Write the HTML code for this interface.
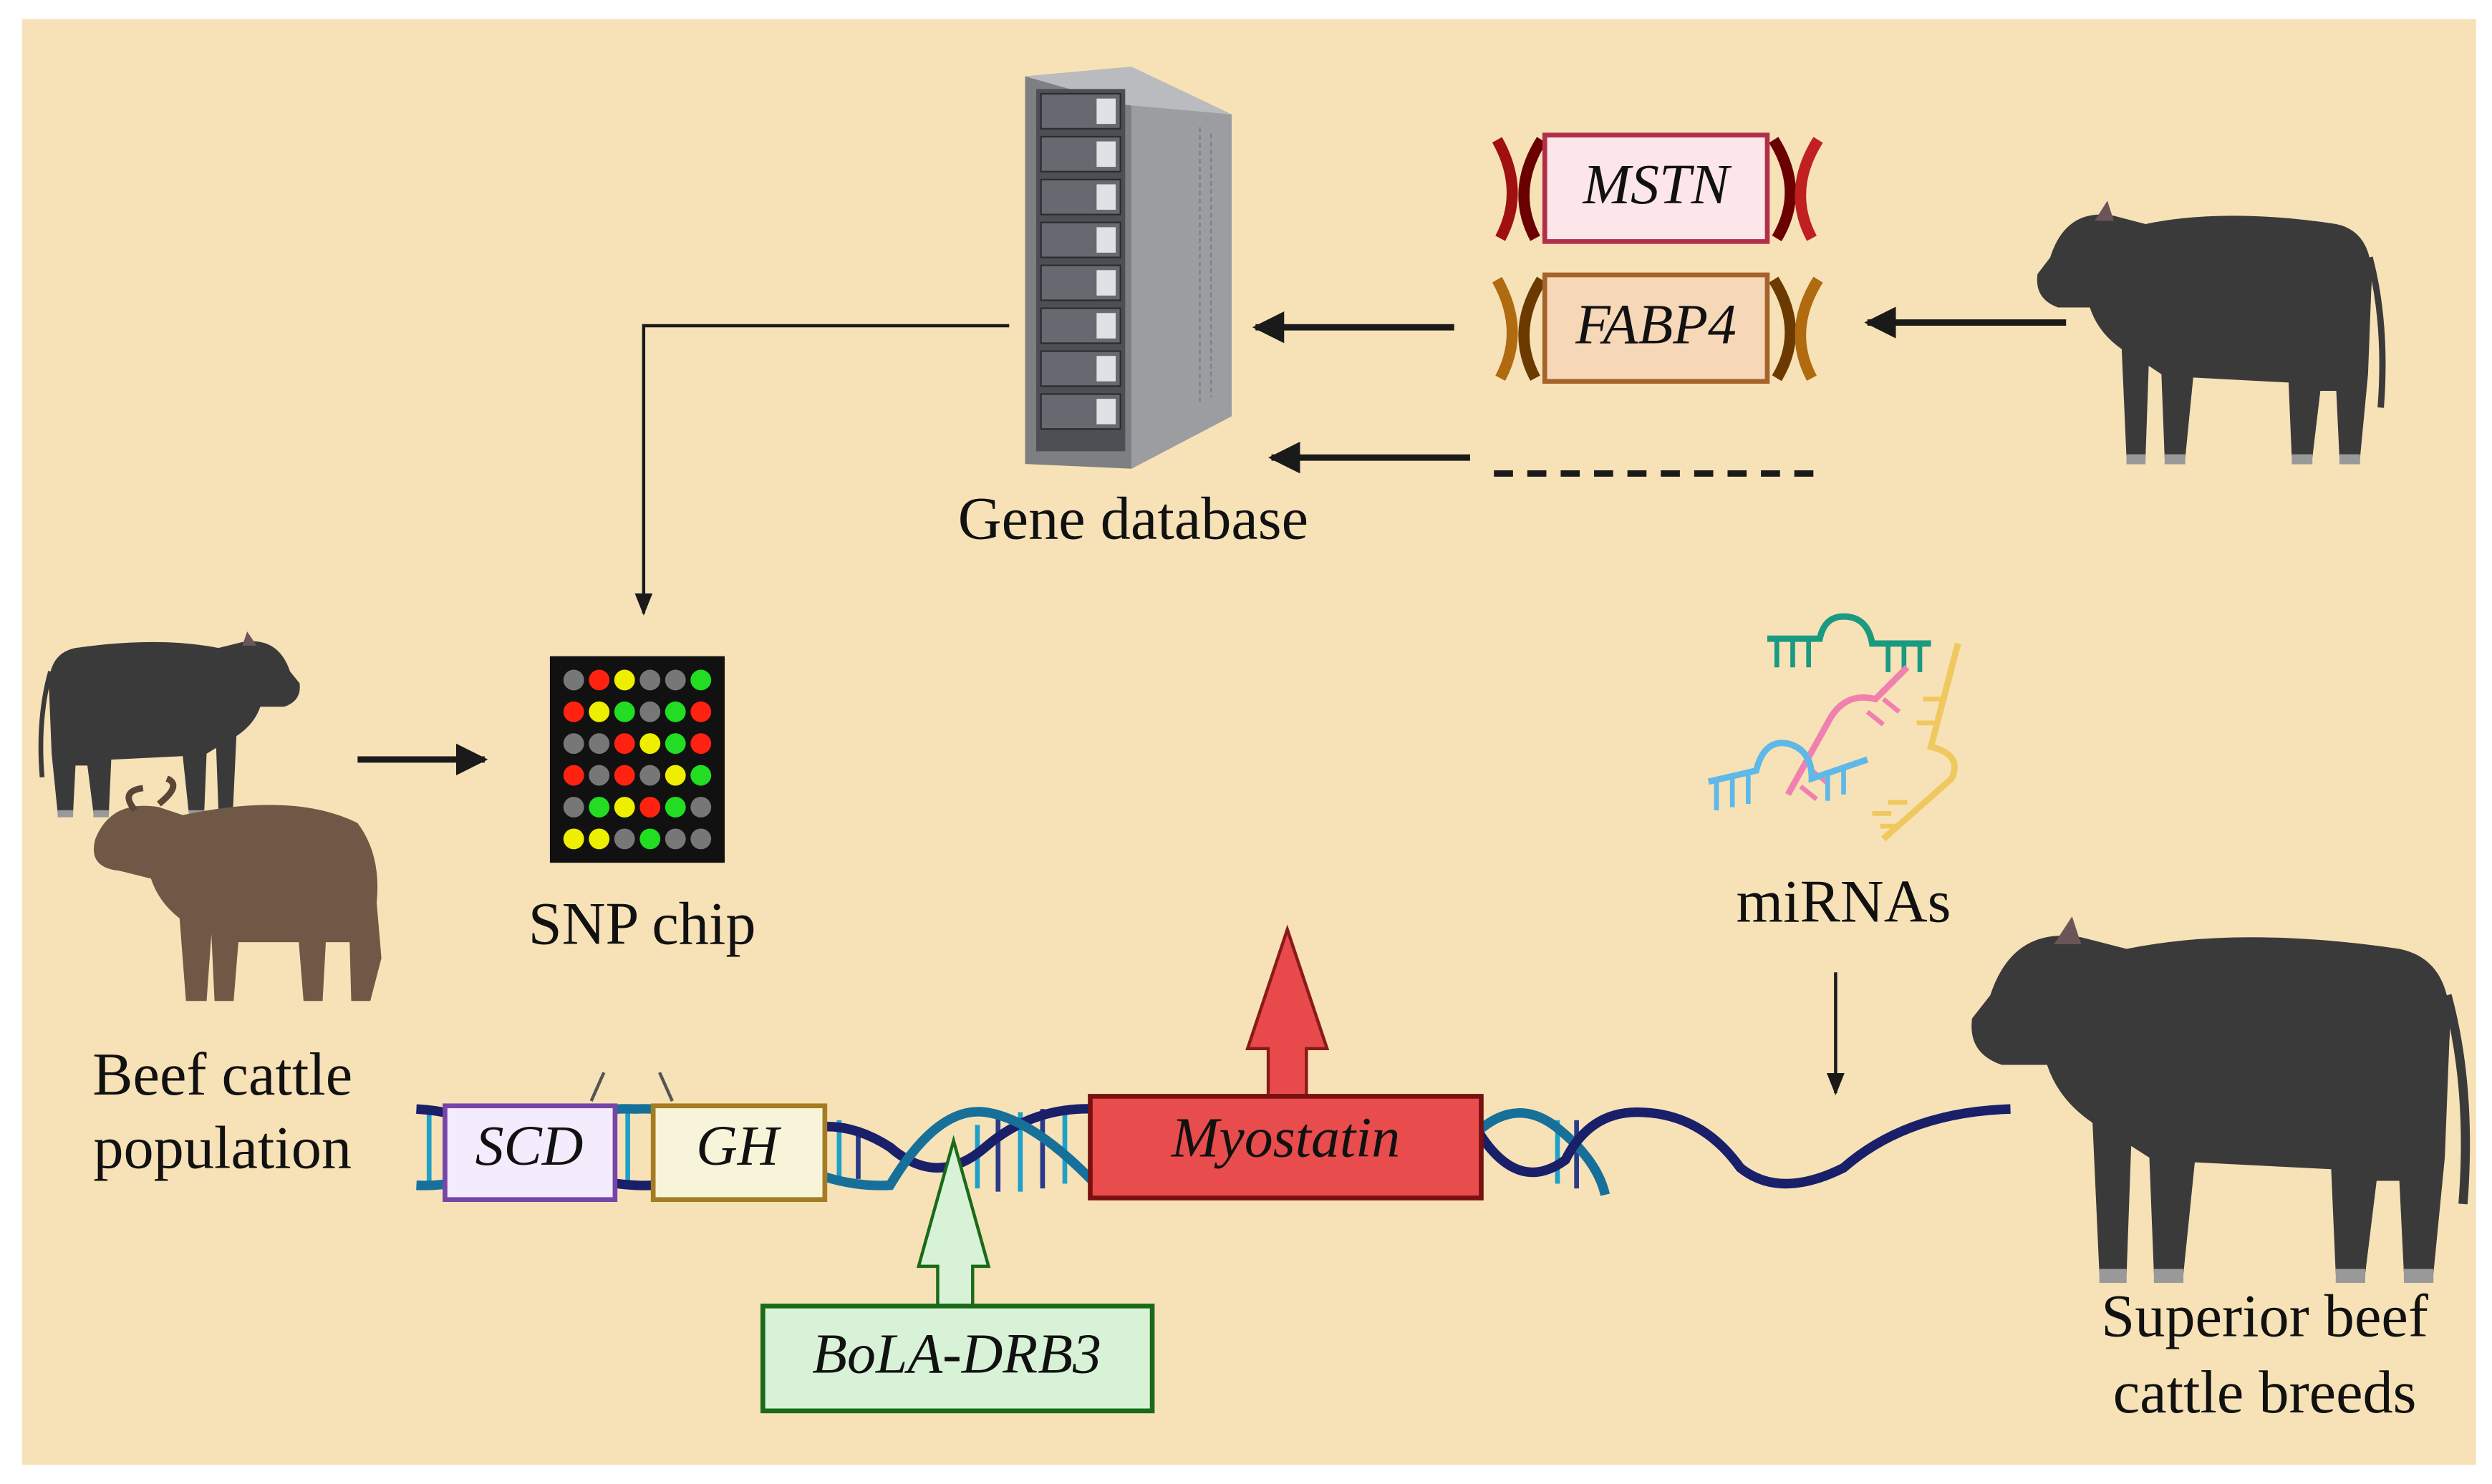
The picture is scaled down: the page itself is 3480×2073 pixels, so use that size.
<!DOCTYPE html>
<html><head><meta charset="utf-8"><style>
html,body{margin:0;padding:0;background:#fff;}
svg{display:block;}
svg text{font-family:"Liberation Serif","DejaVu Serif",serif !important;fill:#111;}
.it{font-style:italic;}
</style></head><body>
<svg width="3480" height="2073" viewBox="0 0 1568 934" xmlns="http://www.w3.org/2000/svg" font-family="Liberation Serif, DejaVu Serif, serif">
<defs>
<marker id="ah" viewBox="0 0 10 10" refX="9" refY="5" markerWidth="5" markerHeight="5" orient="auto"><path d="M0,0 L10,5 L0,10 Z" fill="#1a1a1a"/></marker>
<marker id="ahs" viewBox="0 0 10 10" refX="9" refY="5" markerWidth="7" markerHeight="7" orient="auto"><path d="M0,1 L10,5 L0,9 Z" fill="#1a1a1a"/></marker>
<g id="cow">
<path d="M10,40 Q20,10 50,15 L70,20 Q120,10 190,20 Q215,25 212,60 L210,110 L205,160 L192,160 L190,120 L180,120 L175,160 L162,160 L160,115 L100,112 L95,160 L82,160 L80,110 L72,105 L70,160 L58,160 L55,95 Q40,85 35,70 L15,70 Q0,65 2,50 Z" fill="#3b3a3b"/>
<path d="M211,40 Q222,80 218,130" stroke="#3b3a3b" stroke-width="4" fill="none"/>
<rect x="58" y="158" width="12" height="6" fill="#999"/><rect x="82" y="158" width="13" height="6" fill="#999"/>
<rect x="162" y="158" width="13" height="6" fill="#999"/><rect x="192" y="158" width="13" height="6" fill="#999"/>
<path d="M38,18 L46,6 L50,18 Z" fill="#6a5558"/>
</g>
</defs>
<rect x="0" y="0" width="1568" height="934" fill="#fff"/>
<rect x="14" y="12" width="1544" height="910" fill="#f7e2b7"/>

<!-- Server -->
<polygon points="712,42 645,48 645,292 712,295" fill="#7d7f83"/>
<polygon points="712,42 775,72 775,262 712,295" fill="#9b9da1"/>
<polygon points="645,48 712,42 775,72 708,66" fill="#b9bbbe"/>
<rect x="652" y="56" width="56" height="228" fill="#4d4f54"/>
<g fill="#666a70" stroke="#2a2c30" stroke-width="1">
<rect x="655" y="59" width="50" height="22"/><rect x="655" y="86" width="50" height="22"/><rect x="655" y="113" width="50" height="22"/><rect x="655" y="140" width="50" height="22"/><rect x="655" y="167" width="50" height="22"/><rect x="655" y="194" width="50" height="22"/><rect x="655" y="221" width="50" height="22"/><rect x="655" y="248" width="50" height="22"/>
</g>
<g fill="#dfe2e5">
<rect x="690" y="62" width="12" height="16"/><rect x="690" y="89" width="12" height="16"/><rect x="690" y="116" width="12" height="16"/><rect x="690" y="143" width="12" height="16"/><rect x="690" y="170" width="12" height="16"/><rect x="690" y="197" width="12" height="16"/><rect x="690" y="224" width="12" height="16"/><rect x="690" y="251" width="12" height="16"/>
</g>
<g stroke="#7d8088" stroke-width="1">
<line x1="755" y1="80" x2="755" y2="255" stroke-dasharray="3 2"/><line x1="762" y1="84" x2="762" y2="250" stroke-dasharray="3 2"/>
</g>

<g font-family="Liberation Serif, DejaVu Serif, serif">
<text x="713" y="339" font-size="38" text-anchor="middle" style="font-family:'Liberation Serif',serif">Gene database</text>
</g>

<polyline points="635,205 405,205 405,386" fill="none" stroke="#1a1a1a" stroke-width="2" marker-end="url(#ahs)"/>

<g fill="none" stroke-width="7">
<path d="M942,88 Q960,120 944,150" stroke="#a01010"/><path d="M970,88 Q950,120 966,150" stroke="#6a0000"/>
<path d="M1116,88 Q1136,120 1118,150" stroke="#6a0000"/><path d="M1144,88 Q1124,120 1140,150" stroke="#c02020"/>
<path d="M942,176 Q960,208 944,238" stroke="#b06a10"/><path d="M970,176 Q950,208 966,238" stroke="#6a3a00"/>
<path d="M1116,176 Q1136,208 1118,238" stroke="#6a3a00"/><path d="M1144,176 Q1124,208 1140,238" stroke="#b06a10"/>
</g>
<rect x="972" y="85" width="140" height="67" fill="#fde6ea" stroke="#b0304c" stroke-width="3"/>
<text x="1042" y="128" font-size="36" class="it" text-anchor="middle" style="font-family:'Liberation Serif',serif;font-style:italic">MSTN</text>
<rect x="972" y="173" width="140" height="67" fill="#f6d7b8" stroke="#a5622a" stroke-width="3"/>
<text x="1042" y="216" font-size="36" class="it" text-anchor="middle" style="font-family:'Liberation Serif',serif;font-style:italic">FABP4</text>

<line x1="915" y1="206" x2="790" y2="206" stroke="#1a1a1a" stroke-width="4" marker-end="url(#ah)"/>
<line x1="1300" y1="203" x2="1175" y2="203" stroke="#1a1a1a" stroke-width="4" marker-end="url(#ah)"/>
<line x1="925" y1="288" x2="800" y2="288" stroke="#1a1a1a" stroke-width="4" marker-end="url(#ah)"/>
<line x1="940" y1="298" x2="1145" y2="298" stroke="#1a1a1a" stroke-width="4" stroke-dasharray="12 9"/>

<use href="#cow" transform="translate(1280,120) scale(1.0,1.05)"/>
<use href="#cow" transform="translate(190,393) scale(-0.75,0.74)"/>
<g transform="translate(55,498)">
<path d="M5,30 Q15,5 45,10 L60,15 Q130,0 170,20 Q185,40 182,70 L185,105 L178,132 L166,132 L165,95 L150,95 L148,132 L136,132 L133,95 L95,95 L92,132 L80,132 L78,90 L75,132 L62,132 L58,80 Q45,70 40,55 L20,50 Q0,48 5,30 Z" fill="#6f5845"/>
<path d="M30,12 Q20,0 35,-2 M45,8 Q60,-4 50,-8" stroke="#5a4636" stroke-width="4" fill="none"/>
</g>
<use href="#cow" transform="translate(1238,568) scale(1.43,1.46)"/>

<text x="140" y="689" font-size="38" text-anchor="middle" style="font-family:'Liberation Serif',serif">Beef cattle</text>
<text x="140" y="735" font-size="38" text-anchor="middle" style="font-family:'Liberation Serif',serif">population</text>

<line x1="225" y1="478" x2="305" y2="478" stroke="#1a1a1a" stroke-width="4" marker-end="url(#ah)"/>

<rect x="346" y="413" width="110" height="130" fill="#111"/>
<g>
<circle cx="361" cy="428" r="6.5" fill="#777"/><circle cx="377" cy="428" r="6.5" fill="#f21"/><circle cx="393" cy="428" r="6.5" fill="#ee0"/><circle cx="409" cy="428" r="6.5" fill="#777"/><circle cx="425" cy="428" r="6.5" fill="#777"/><circle cx="441" cy="428" r="6.5" fill="#2d2"/>
<circle cx="361" cy="448" r="6.5" fill="#f21"/><circle cx="377" cy="448" r="6.5" fill="#ee0"/><circle cx="393" cy="448" r="6.5" fill="#2d2"/><circle cx="409" cy="448" r="6.5" fill="#777"/><circle cx="425" cy="448" r="6.5" fill="#2d2"/><circle cx="441" cy="448" r="6.5" fill="#f21"/>
<circle cx="361" cy="468" r="6.5" fill="#777"/><circle cx="377" cy="468" r="6.5" fill="#777"/><circle cx="393" cy="468" r="6.5" fill="#f21"/><circle cx="409" cy="468" r="6.5" fill="#ee0"/><circle cx="425" cy="468" r="6.5" fill="#2d2"/><circle cx="441" cy="468" r="6.5" fill="#f21"/>
<circle cx="361" cy="488" r="6.5" fill="#f21"/><circle cx="377" cy="488" r="6.5" fill="#777"/><circle cx="393" cy="488" r="6.5" fill="#f21"/><circle cx="409" cy="488" r="6.5" fill="#777"/><circle cx="425" cy="488" r="6.5" fill="#ee0"/><circle cx="441" cy="488" r="6.5" fill="#2d2"/>
<circle cx="361" cy="508" r="6.5" fill="#777"/><circle cx="377" cy="508" r="6.5" fill="#2d2"/><circle cx="393" cy="508" r="6.5" fill="#ee0"/><circle cx="409" cy="508" r="6.5" fill="#f21"/><circle cx="425" cy="508" r="6.5" fill="#2d2"/><circle cx="441" cy="508" r="6.5" fill="#777"/>
<circle cx="361" cy="528" r="6.5" fill="#ee0"/><circle cx="377" cy="528" r="6.5" fill="#ee0"/><circle cx="393" cy="528" r="6.5" fill="#777"/><circle cx="409" cy="528" r="6.5" fill="#2d2"/><circle cx="425" cy="528" r="6.5" fill="#777"/><circle cx="441" cy="528" r="6.5" fill="#777"/>
</g>
<text x="404" y="594" font-size="38" text-anchor="middle" style="font-family:'Liberation Serif',serif">SNP chip</text>

<g fill="none" stroke-width="4">
<path d="M1112,402 L1145,402 Q1148,388 1160,388 Q1175,388 1178,405 L1215,405" stroke="#1a9a80"/>
<path d="M1118,402 v18 M1128,402 v18 M1138,402 v18 M1188,405 v18 M1198,405 v18 M1208,405 v18" stroke="#1a9a80" stroke-width="3"/>
<path d="M1232,405 L1215,470 Q1235,475 1228,490 L1185,528" stroke="#f0c860"/>
<path d="M1222,440 h-12 M1218,455 h-12 M1195,520 h-12 M1190,512 h-12 M1200,505 h-12" stroke="#f0c860" stroke-width="3"/>
<path d="M1200,420 L1180,440 Q1160,435 1150,455 L1125,500" stroke="#f080b0"/>
<path d="M1185,440 l10,8 M1175,448 l10,8 M1140,485 l10,8 M1133,495 l10,8" stroke="#f080b0" stroke-width="3"/>
<path d="M1075,492 L1105,485 Q1110,465 1125,468 Q1140,472 1140,490 L1175,478" stroke="#60b8e8"/>
<path d="M1080,492 v18 M1090,490 v18 M1100,488 v18 M1150,486 v18 M1160,482 v18" stroke="#60b8e8" stroke-width="3"/>
</g>
<text x="1160" y="580" font-size="38" text-anchor="middle" style="font-family:'Liberation Serif',serif">miRNAs</text>
<line x1="1155" y1="612" x2="1155" y2="688" stroke="#1a1a1a" stroke-width="2" marker-end="url(#ahs)"/>

<g stroke-width="3">
<line x1="270" y1="700" x2="270" y2="748" stroke="#1fa0c8"/><line x1="395" y1="700" x2="395" y2="748" stroke="#1fa0c8"/>
<line x1="528" y1="705" x2="528" y2="745" stroke="#1fa0c8"/><line x1="540" y1="710" x2="540" y2="742" stroke="#2a3a8a"/>
<line x1="615" y1="708" x2="615" y2="748" stroke="#1fa0c8"/><line x1="628" y1="702" x2="628" y2="750" stroke="#2a3a8a"/><line x1="642" y1="700" x2="642" y2="750" stroke="#1fa0c8"/><line x1="656" y1="698" x2="656" y2="748" stroke="#2a3a8a"/><line x1="670" y1="700" x2="670" y2="745" stroke="#1fa0c8"/>
<line x1="980" y1="705" x2="980" y2="745" stroke="#1fa0c8"/><line x1="992" y1="705" x2="992" y2="748" stroke="#2a3a8a"/>
</g>
<path d="M262,698 Q300,700 330,722 T400,746 Q440,748 480,722 T560,722 Q590,748 620,722 T690,698" fill="none" stroke="#1a1f6a" stroke-width="6"/>
<path d="M262,746 Q300,748 330,722 T400,698 Q440,696 480,722 T560,746 Q590,696 620,700 T690,746" fill="none" stroke="#16709a" stroke-width="6"/>
<path d="M930,712 Q955,690 980,710 T1010,752" fill="none" stroke="#16709a" stroke-width="6"/>
<path d="M930,712 Q955,752 985,730 Q1000,700 1030,700 Q1070,700 1095,735 Q1120,755 1160,735 Q1200,700 1265,698" fill="none" stroke="#1a1f6a" stroke-width="6"/>
<line x1="372" y1="693" x2="380" y2="675" stroke="#555" stroke-width="2"/><line x1="423" y1="693" x2="415" y2="675" stroke="#555" stroke-width="2"/>

<rect x="280" y="696" width="107" height="59" fill="#f4ecfc" stroke="#7645a8" stroke-width="3"/>
<text x="333" y="733" font-size="36" text-anchor="middle" style="font-family:'Liberation Serif',serif;font-style:italic">SCD</text>
<rect x="411" y="696" width="108" height="59" fill="#f8f4da" stroke="#a57c22" stroke-width="3"/>
<text x="464" y="733" font-size="36" text-anchor="middle" style="font-family:'Liberation Serif',serif;font-style:italic">GH</text>

<polygon points="810,585 835,660 822,660 822,690 798,690 798,660 785,660" fill="#e84a4c" stroke="#8a1a1a" stroke-width="2"/>
<rect x="686" y="690" width="246" height="64" fill="#e84c4c" stroke="#7a1010" stroke-width="3"/>
<text x="809" y="728" font-size="36" text-anchor="middle" style="font-family:'Liberation Serif',serif;font-style:italic">Myostatin</text>

<polygon points="600,718 622,797 612,797 612,822 590,822 590,797 578,797" fill="#d8f2d8" stroke="#1a6a1a" stroke-width="2"/>
<rect x="480" y="822" width="245" height="66" fill="#d8f2d8" stroke="#1a6a1a" stroke-width="3"/>
<text x="602" y="864" font-size="36" text-anchor="middle" style="font-family:'Liberation Serif',serif;font-style:italic">BoLA-DRB3</text>

<text x="1425" y="841" font-size="38" text-anchor="middle" style="font-family:'Liberation Serif',serif">Superior beef</text>
<text x="1425" y="889" font-size="38" text-anchor="middle" style="font-family:'Liberation Serif',serif">cattle breeds</text>
</svg>
</body></html>
